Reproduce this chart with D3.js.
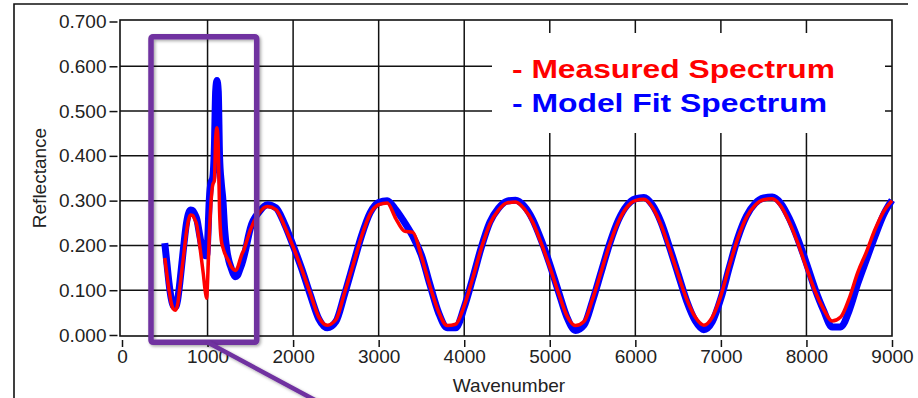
<!DOCTYPE html>
<html>
<head>
<meta charset="utf-8">
<script src="https://cdnjs.cloudflare.com/ajax/libs/d3/7.8.5/d3.min.js"></script>
<style>
    body { margin: 0; background: #fff; }
    .axis text { font-family: "Liberation Sans", Arial, sans-serif; font-size: 19px; fill: #222; }
    .axis path { display: none; }
    .axis line { stroke: #111; stroke-width: 1.5px; }
</style>
</head>
<body>
<div id="chart-area"></div>
<script>

// wavenumber samples (denser in the phonon band, then every 100)
var wavenumbers = [500, 525, 550, 575, 600, 625, 650, 675, 700, 725, 750, 775, 800, 825, 850, 875, 900, 925, 950, 975,
    990, 1000, 1020, 1040, 1060, 1080, 1095, 1110, 1125, 1140, 1160, 1180, 1200,
    1225, 1250, 1275, 1300, 1325, 1350, 1375, 1400, 1425, 1450, 1475, 1500,
    1600, 1700, 1800, 1900, 2000, 2100, 2200, 2300, 2400, 2500,
    2600, 2700, 2800, 2900, 3000, 3100, 3200, 3300, 3400, 3500,
    3600, 3700, 3800, 3900, 4000, 4100, 4200, 4300, 4400, 4500,
    4600, 4700, 4800, 4900, 5000, 5100, 5200, 5300, 5400, 5500,
    5600, 5700, 5800, 5900, 6000, 6100, 6200, 6300, 6400, 6500,
    6600, 6700, 6800, 6900, 7000, 7100, 7200, 7300, 7400, 7500,
    7600, 7700, 7800, 7900, 8000, 8100, 8200, 8300, 8400, 8500,
    8600, 8700, 8800, 8900, 9000];

var measured = [0.172, 0.135, 0.100, 0.072, 0.058, 0.055, 0.068, 0.105, 0.145, 0.185, 0.225, 0.255, 0.268, 0.267, 0.258, 0.245, 0.212, 0.175, 0.137, 0.095,
    0.082, 0.118, 0.220, 0.295, 0.335, 0.345, 0.440, 0.463, 0.420, 0.280, 0.212, 0.195, 0.183,
    0.173, 0.164, 0.153, 0.147, 0.144, 0.150, 0.165, 0.180, 0.190, 0.205, 0.220, 0.234,
    0.272, 0.287, 0.280, 0.243, 0.197, 0.147, 0.093, 0.040, 0.022, 0.034,
    0.093, 0.156, 0.220, 0.270, 0.291, 0.295, 0.260, 0.232, 0.229, 0.175,
    0.109, 0.052, 0.021, 0.024, 0.065, 0.127, 0.194, 0.248, 0.279, 0.295,
    0.297, 0.282, 0.252, 0.205, 0.152, 0.095, 0.043, 0.021, 0.030, 0.080,
    0.141, 0.202, 0.252, 0.285, 0.300, 0.303, 0.285, 0.246, 0.192, 0.135,
    0.080, 0.040, 0.022, 0.040, 0.088, 0.155, 0.217, 0.263, 0.290, 0.302,
    0.304, 0.288, 0.252, 0.205, 0.150, 0.098, 0.058, 0.031, 0.040, 0.082,
    0.140, 0.185, 0.235, 0.275, 0.300];

var modelFit = [0.205, 0.160, 0.115, 0.082, 0.065, 0.063, 0.078, 0.115, 0.160, 0.205, 0.245, 0.270, 0.279, 0.278, 0.270, 0.258, 0.232, 0.205, 0.185, 0.177,
    0.177, 0.205, 0.300, 0.340, 0.350, 0.420, 0.545, 0.568, 0.545, 0.400, 0.340, 0.300, 0.235,
    0.190, 0.165, 0.150, 0.137, 0.130, 0.133, 0.145, 0.158, 0.175, 0.195, 0.218, 0.238,
    0.274, 0.291, 0.284, 0.248, 0.200, 0.148, 0.090, 0.036, 0.016, 0.030,
    0.090, 0.156, 0.222, 0.273, 0.296, 0.300, 0.280, 0.252, 0.220, 0.178,
    0.112, 0.050, 0.016, 0.016, 0.062, 0.127, 0.196, 0.252, 0.283, 0.299,
    0.301, 0.288, 0.258, 0.212, 0.158, 0.098, 0.040, 0.010, 0.022, 0.076,
    0.140, 0.204, 0.256, 0.289, 0.304, 0.307, 0.290, 0.252, 0.196, 0.136,
    0.076, 0.032, 0.012, 0.030, 0.082, 0.152, 0.218, 0.266, 0.294, 0.306,
    0.308, 0.294, 0.260, 0.214, 0.160, 0.103, 0.055, 0.018, 0.018, 0.055,
    0.115, 0.168, 0.220, 0.268, 0.301];

var xTicks = [0, 1000, 2000, 3000, 4000, 5000, 6000, 7000, 8000, 9000];
var yTicks = [0, 0.1, 0.2, 0.3, 0.4, 0.5, 0.6, 0.7];
var legendLabels = ["- Measured Spectrum", "- Model Fit Spectrum"];
var seriesColors = ["#ff0000", "#0000ff"];


/*
 * SpectrumChart - Object constructor function
 */

SpectrumChart = function(_parentElement){
    this.parentElement = _parentElement;
    this.initVis();
}

SpectrumChart.prototype.initVis = function(){
    var vis = this;

    vis.width = 918;
    vis.height = 398;

    vis.svg = d3.select("#" + vis.parentElement).append("svg")
        .attr("width", vis.width)
        .attr("height", vis.height);

    vis.svg.append("rect")
        .attr("width", vis.width)
        .attr("height", vis.height)
        .attr("fill", "#fff");

    // outer window frame (runs off the right / bottom)
    vis.svg.append("path")
        .attr("d", "M14,398V4H908")
        .attr("fill", "none")
        .attr("stroke", "#111")
        .attr("stroke-width", 1.6);

    vis.x = d3.scaleLinear()
        .domain([0, 9000])
        .range([122, 892]);

    vis.y = d3.scaleLinear()
        .domain([0, 0.7])
        .range([335, 21.5]);

    vis.wrangleData();
}

SpectrumChart.prototype.wrangleData = function(){
    var vis = this;

    vis.displayData = [
        wavenumbers.map(function(w, i) { return { x: w, y: measured[i] }; }),
        wavenumbers.map(function(w, i) { return { x: w, y: modelFit[i] }; })
    ];

    vis.updateVis();
}

SpectrumChart.prototype.updateVis = function(){
    var vis = this;
    var left = vis.x(0) - 2, right = vis.x(9000),
        top = vis.y(0.7) - 1.5, bottom = vis.y(0) + 1;

    // grid
    vis.svg.append("g").selectAll("line.vgrid")
        .data(xTicks.slice(1, -1))
        .enter().append("line")
        .attr("x1", function(d) { return vis.x(d); })
        .attr("x2", function(d) { return vis.x(d); })
        .attr("y1", top)
        .attr("y2", bottom)
        .attr("stroke", "#111")
        .attr("stroke-width", 1.5);

    vis.svg.append("g").selectAll("line.hgrid")
        .data(yTicks.slice(1, -1))
        .enter().append("line")
        .attr("x1", left)
        .attr("x2", right)
        .attr("y1", function(d) { return vis.y(d); })
        .attr("y2", function(d) { return vis.y(d); })
        .attr("stroke", "#111")
        .attr("stroke-width", 1.5);

    // white box behind the legend text hides the grid
    vis.svg.append("rect")
        .attr("x", 492)
        .attr("y", 33)
        .attr("width", 393)
        .attr("height", 100)
        .attr("fill", "#fff");

    vis.svg.append("rect")
        .attr("x", left)
        .attr("y", top)
        .attr("width", right - left)
        .attr("height", bottom - top)
        .attr("fill", "none")
        .attr("stroke", "#111")
        .attr("stroke-width", 1.6);

    // axes
    vis.xAxis = d3.axisBottom(vis.x)
        .tickValues(xTicks)
        .tickSize(7)
        .tickPadding(3)
        .tickFormat(d3.format("d"));

    vis.yAxis = d3.axisLeft(vis.y)
        .tickValues(yTicks)
        .tickSize(8)
        .tickPadding(3)
        .tickFormat(d3.format(".3f"));

    vis.svg.append("g")
        .attr("class", "x-axis axis")
        .attr("transform", "translate(0," + (bottom + 4) + ")")
        .call(vis.xAxis);

    vis.svg.append("g")
        .attr("class", "y-axis axis")
        .attr("transform", "translate(117.5,0)")
        .call(vis.yAxis);

    vis.svg.append("text")
        .attr("class", "axis-title")
        .attr("x", 509)
        .attr("y", 392)
        .attr("text-anchor", "middle")
        .style("font-family", "Liberation Sans, Arial, sans-serif")
        .style("font-size", "19px")
        .attr("fill", "#222")
        .text("Wavenumber");

    vis.svg.append("text")
        .attr("transform", "translate(46,178) rotate(-90)")
        .attr("text-anchor", "middle")
        .style("font-family", "Liberation Sans, Arial, sans-serif")
        .style("font-size", "19px")
        .attr("fill", "#222")
        .text("Reflectance");

    // spectra: model (thick blue) underneath, measured (red) on top
    var line = d3.line()
        .x(function(d) { return vis.x(d.x); })
        .y(function(d) { return vis.y(d.y); })
        .curve(d3.curveMonotoneX);

    vis.svg.append("path")
        .datum(vis.displayData[1])
        .attr("d", line)
        .attr("fill", "none")
        .attr("stroke", seriesColors[1])
        .attr("stroke-width", 7)
        .attr("stroke-linejoin", "round");

    vis.svg.append("path")
        .datum(vis.displayData[0])
        .attr("d", line)
        .attr("fill", "none")
        .attr("stroke", seriesColors[0])
        .attr("stroke-width", 3.5)
        .attr("stroke-linejoin", "round");

    // legend
    vis.svg.selectAll("text.legend")
        .data(legendLabels)
        .enter().append("text")
        .attr("class", "legend")
        .attr("x", 512)
        .attr("y", function(d, i) { return 78 + i * 34; })
        .attr("textLength", function(d, i) { return i == 0 ? 323 : 315; })
        .attr("lengthAdjust", "spacingAndGlyphs")
        .style("font-family", "Liberation Sans, Arial, sans-serif")
        .style("font-size", "25px")
        .style("font-weight", "bold")
        .attr("fill", function(d, i) { return seriesColors[i]; })
        .text(function(d) { return d; });

    // purple highlight box and callout line
    var defs = vis.svg.append("defs");
    var f = defs.append("filter").attr("id", "shadow")
        .attr("x", "-20%").attr("y", "-20%").attr("width", "140%").attr("height", "140%");
    f.append("feDropShadow")
        .attr("dx", 1.5).attr("dy", 1.5).attr("stdDeviation", 1.5)
        .attr("flood-color", "#000").attr("flood-opacity", 0.35);

    vis.svg.append("rect")
        .attr("x", 151)
        .attr("y", 36.7)
        .attr("width", 105.7)
        .attr("height", 305.6)
        .attr("rx", 2)
        .attr("fill", "none")
        .attr("stroke", "#7030a0")
        .attr("stroke-width", 5.5)
        .attr("filter", "url(#shadow)");

    vis.svg.append("line")
        .attr("x1", 207)
        .attr("y1", 342)
        .attr("x2", 326)
        .attr("y2", 406)
        .attr("stroke", "#7030a0")
        .attr("stroke-width", 4.5)
        .attr("filter", "url(#shadow)");
}

var chart = new SpectrumChart("chart-area");

</script>
</body>
</html>
